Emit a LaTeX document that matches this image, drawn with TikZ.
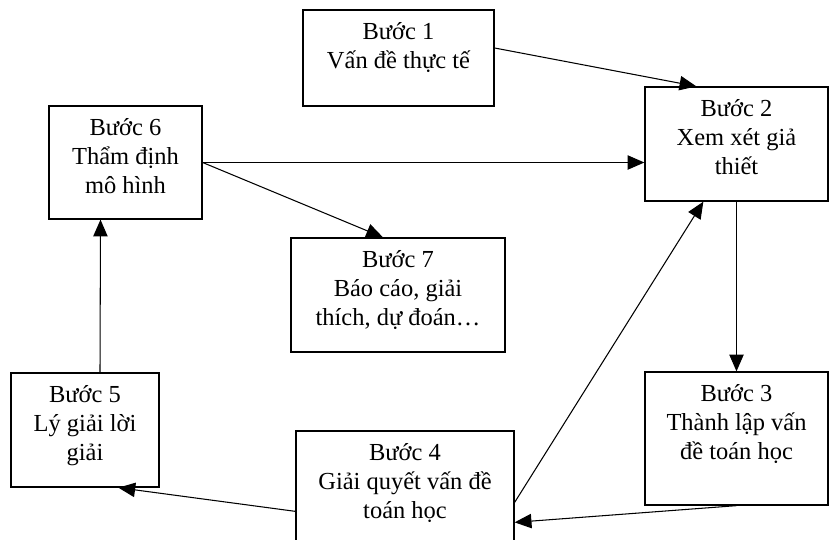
\documentclass[tikz,border=0pt]{standalone}
\usepackage{fontspec}
\setmainfont{Liberation Serif}
\usetikzlibrary{arrows.meta, calc, positioning}
\tikzstyle{stepbox} = [rectangle, draw=black, line width=0.9pt, inner sep=0pt, fill=white]
\tikzstyle{steptext} = [anchor=north, inner sep=0pt, align=center, font=\fontsize{17.4pt}{20.6pt}\selectfont]
\tikzstyle{arrow} = [line width=0.75pt, -{Triangle[length=0.42cm, width=0.36cm]}]

\begin{document}
\begin{tikzpicture}[x=0.025cm, y=-0.025cm]
\useasboundingbox (0,0) rectangle (830,540);
\clip (0,0) rectangle (830,540);

% the seven steps
\node (s1) [stepbox, minimum width=4.775cm, minimum height=2.4cm] at (398.5,58) {};
\node (s2) [stepbox, minimum width=4.575cm, minimum height=2.85cm] at (736.5,144) {};
\node (s3) [stepbox, minimum width=4.575cm, minimum height=3.325cm] at (736.5,438.5) {};
\node (s4) [stepbox, minimum width=5.45cm, minimum height=3.45cm] at (405,500) {};
\node (s5) [stepbox, minimum width=3.7cm, minimum height=2.85cm] at (85,430) {};
\node (s6) [stepbox, minimum width=3.825cm, minimum height=2.825cm] at (125.5,162.5) {};
\node (s7) [stepbox, minimum width=5.35cm, minimum height=2.85cm] at (398,295) {};

\node (t1) [steptext] at ($(s1.north)+(0,13)$) {Bước 1\\Vấn đề thực tế};
\node (t2) [steptext] at ($(s2.north)+(0,13)$) {Bước 2\\Xem xét giả\\thiết};
\node (t3) [steptext] at ($(s3.north)+(0,13)$) {Bước 3\\Thành lập vấn\\đề toán học};
\node (t4) [steptext] at ($(s4.north)+(0,13)$) {Bước 4\\Giải quyết vấn đề\\toán học};
\node (t5) [steptext] at ($(s5.north)+(0,13)$) {Bước 5\\Lý giải lời\\giải};
\node (t6) [steptext] at ($(s6.north)+(0,13)$) {Bước 6\\Thẩm định\\mô hình};
\node (t7) [steptext] at ($(s7.north)+(0,13)$) {Bước 7\\Báo cáo, giải\\thích, dự đoán…};

% connectors
\draw [arrow] ($(s1.east)+(0,-10)$) -- ($(s2.north west)+(52,0)$);
\draw [arrow] (s6.east) -- (s6.east -| s2.west);
\draw [arrow] (s6.east) -- ($(s7.north)+(-15,0)$);
\draw [arrow] (s2.south) -- (s3.north);
\draw [arrow] (s3.south) -- ($(s4.north east)+(0,92)$);
\draw [arrow] ($(s4.north east)+(0,72)$) -- ($(s2.south west)+(59,0)$);
\draw [arrow] ($(s4.north west)+(0,81)$) -- ($(s5.south west)+(108,0)$);
\draw [arrow] ($(s5.north)+(15,0)$) -- ($(s6.south)+(-25,0)$);

\end{tikzpicture}
\end{document}
